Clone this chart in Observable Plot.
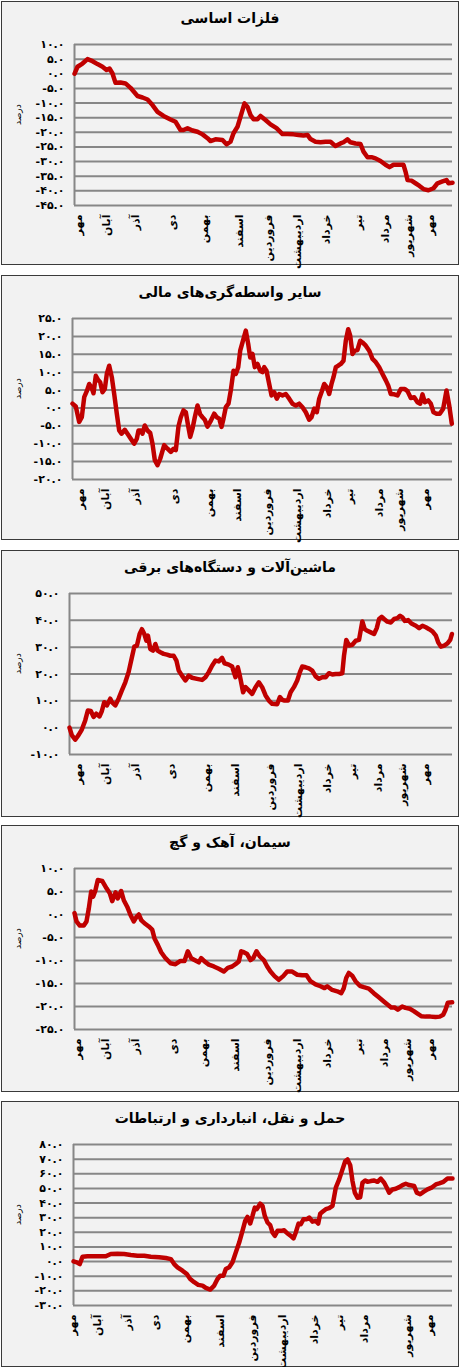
<!DOCTYPE html>
<html><head><meta charset="utf-8">
<script src="https://cdn.jsdelivr.net/npm/d3@7"></script>
<script src="https://cdn.jsdelivr.net/npm/@observablehq/plot@0.6"></script>
<style>
html,body{margin:0;padding:0;background:#fff;}
body{width:460px;height:1367px;position:relative;overflow:hidden;font-family:"DejaVu Sans",sans-serif;}
.panel{position:absolute;left:1px;width:458px;box-sizing:border-box;border:1px solid #3a3a3a;background:#f2f2f2;}
.title{height:28px;line-height:32px;text-align:center;font-weight:bold;font-size:14px;color:#000;white-space:nowrap;direction:rtl;}
.panel svg{display:block;overflow:visible;}
</style></head><body>
<script>
// ---------- data ----------
const monthLabels = ["مهر","آبان","آذر","دی","بهمن","اسفند","فروردین","اردیبهشت","خرداد","تیر","مرداد","شهریور","مهر"];
const titles = ["فلزات اساسی","سایر واسطه‌گری‌های مالی","ماشین‌آلات و دستگاه‌های برقی","سیمان، آهک و گچ","حمل و نقل، انبارداری و ارتباطات"];
const yLabel = "درصد";

// panel 1: فلزات اساسی
const p1Day = [0,3,8,13,18,23,28,32,35,38,41,46,51,56,63,68,73,78,83,89,96,101,106,109,113,118,123,128,133,136,141,148,152,156,159,163,165,168,170,173,176,179,183,186,191,196,202,208,213,219,224,229,233,236,241,246,251,256,261,266,269,273,276,281,286,289,293,297,301,306,311,315,319,324,329,331,333,337,341,345,349,354,359,363,368,372,374,378];
const p1Val = [0.0,2.4,3.5,5.0,4.3,3.3,2.4,1.3,1.8,0.1,-3.1,-3.0,-3.3,-4.8,-7.6,-8.1,-8.8,-10.7,-13.0,-14.4,-15.6,-16.4,-19.2,-19.2,-18.6,-19.4,-19.8,-20.7,-22.0,-23.0,-22.4,-22.6,-24.1,-23.2,-20.3,-18.1,-15.8,-12.4,-10.1,-11.3,-14.1,-15.5,-15.5,-14.4,-15.8,-17.3,-18.6,-20.6,-20.6,-20.7,-20.9,-21.1,-20.9,-22.3,-23.2,-23.4,-23.2,-23.2,-24.7,-23.8,-23.4,-22.4,-23.4,-23.8,-24.0,-26.6,-28.5,-28.5,-28.9,-29.8,-31.1,-31.9,-31.1,-31.1,-31.1,-33.4,-36.3,-36.5,-37.4,-38.3,-39.4,-39.8,-39.1,-37.4,-36.8,-36.3,-37.4,-37.2];
const p1Months = [7.7,35,64,101,133,168,197,226,255,287,314,337,359];
const p1YTicks = [10,5,0,-5,-10,-15,-20,-25,-30,-35,-40,-45];

// panel 2: سایر واسطه‌گری‌های مالی
const p2Day = [0,3.3,6.7,9.3,11.7,14.3,16.7,19,21,23.3,25.7,27.7,30,32.3,34.3,36.7,39.3,41.7,44.3,46.7,49,52.3,55,58.3,61.7,64.3,66,68.3,70,72.3,75,77.7,80,82.3,85,87.7,91.7,95,98.3,101,103.3,106,108.3,111,113.3,115.7,117.7,120,122.3,125,127.7,130,132.3,135,137.7,141.7,144.3,146.7,149,151,153.3,156,158.3,161,163.3,165.7,167.7,170,173.3,175.7,177.7,180,182.3,185,187.7,190,191.7,194,196.7,199,201.7,204.3,206.7,210,213.3,216.7,220,223.3,226.7,230,233.3,236.7,239,241.7,244.3,246.7,249,251.7,254.3,256.7,259,261,263.3,265.7,268.3,271,273.3,275.7,277.7,280,282.3,285,287.7,290,293.3,296.7,300,303.3,306.7,310,313.3,315.7,318.3,321.7,325,328.3,332.3,335,338.3,341.7,345,347.7,350,352.3,355.7,358.3,361,364,367.3,370.7,374,376.7,379.3];
const p2Val = [1.2,0.4,-3.9,-2.6,3.0,4.7,6.7,5.8,4.1,9.0,7.8,7.2,4.4,5.3,9.5,11.8,8.6,3.9,-1.6,-6.3,-7.2,-6.1,-7.2,-8.6,-10.0,-8.6,-6.3,-6.3,-7.2,-4.9,-6.3,-7.0,-10.0,-14.6,-16.0,-14.2,-10.4,-11.4,-12.3,-11.4,-11.8,-5.1,-2.6,-0.7,-1.2,-5.1,-8.1,-5.8,-2.6,0.7,-1.8,-2.6,-3.3,-5.2,-3.9,-1.6,-2.6,-3.0,-5.3,-3.0,0.2,1.2,4.9,10.4,9.5,11.4,16.0,18.3,21.6,17.9,14.1,15.1,11.4,12.3,10.4,10.0,11.4,10.4,6.7,3.5,4.4,2.6,3.9,3.5,3.9,2.6,1.2,0.7,1.2,0.2,-1.2,-3.3,-2.6,-0.2,-1.2,2.6,4.4,6.7,5.8,3.9,6.7,8.6,11.4,11.8,12.3,13.2,18.8,22.0,20.2,15.1,16.0,16.2,18.8,18.3,17.4,16.0,13.7,12.8,11.4,9.5,7.7,6.3,3.9,3.8,3.5,5.3,5.3,4.7,2.8,3.0,1.6,1.2,3.8,1.6,2.1,1.2,-1.2,-1.6,-1.6,-0.2,4.9,0.7,-4.4];
const p2Months = [11.7,36.7,66.7,105,140,168.3,198.3,228.3,258.3,280,310,330,356.7];
const p2YTicks = [25,20,15,10,5,0,-5,-10,-15,-20];

// panel 3: ماشین‌آلات و دستگاه‌های برقی
const p3Day = [0,2.3,5.7,9,12.3,15.7,18.3,21.3,24,26.7,30,32.3,34.7,37.3,40.7,42.3,45.7,49,52.3,55.7,59,62.3,64.7,67.3,70,72.3,74.7,76.7,78.3,80.7,83.3,85.7,88,90.7,94,97.3,100.7,104,106.7,109,112.3,115.7,119,122.3,127.3,132.3,135.7,139,142.3,145.7,149,152.3,154.7,159,162.3,165.7,168,170,173.3,175.7,179,182.3,185.7,189,192.3,195.7,199,202.3,207.3,210,212.3,214.7,218,220.7,224,227.3,230,232.3,235.7,239,242.3,245.7,249,252.3,255.7,259,262.3,265.7,269,272.3,274,276.3,279,282.3,285.7,289,292.3,294.7,297.3,300.7,304,306.7,309,311.7,314,317.3,320.7,324,327.3,330,332.3,334.7,338,341.3,345.7,349,352.3,355.7,359,362.3,365.7,368,370.7,374,377.3,380,381.7];
const p3Val = [0,-2.8,-4.5,-2.8,-0.7,2.7,6.4,6.2,4.0,5.2,4.2,6.2,9.5,8.3,10.8,9.5,8.3,10.8,13.9,16.9,20.7,26.2,30.2,30.6,34.9,36.7,34.9,32.4,34.3,29.3,28.7,31.2,28.7,28.1,27.5,27.2,26.8,26.8,25.0,21.3,19.4,17.6,19.4,18.6,18.2,17.8,18.8,20.7,23.1,25.0,24.7,26.0,24.0,23.5,22.8,18.8,22.5,19.4,13.2,15.1,13.9,12.6,15.1,16.9,15.1,12.0,10.1,8.9,8.7,11.4,10.4,10.1,10.1,13.2,15.1,17.6,20.7,22.8,22.5,22.1,21.3,19.1,18.2,18.8,18.8,20.3,19.8,20.0,20.0,20.3,26.8,32.7,30.6,30.9,32.4,32.7,39.6,36.7,36.1,35.5,34.9,37.1,40.5,41.3,40.5,39.5,39.2,40.5,40.8,41.7,41.1,39.8,40.1,38.8,38.0,37.1,38.0,37.4,36.7,35.9,34.3,31.8,30.2,30.6,31.4,32.7,34.9];
const p3Months = [12.3,39,69,105.7,140.7,169,204,232.3,260.7,285.7,312.3,335.7,359];
const p3YTicks = [50,40,30,20,10,0,-10];

// panel 4: سیمان، آهک و گچ
const p4Day = [0,2,5.3,9.3,12,14.3,16.7,18.7,21,23.3,27.7,32,35.3,37.7,41,43.3,46.7,49.3,52.7,56,59.3,62,64.3,66.7,70,74.3,77.7,80,83.3,86.7,91,96,101,106,110,113.3,116.7,120,124.3,126.7,130,134.3,139.3,144.3,149.3,153.3,157.7,161,164.3,166.7,169.3,172.7,176,178.7,182,185.3,189.3,192.7,196,200,204.3,208.7,212.7,217.7,222.7,227.7,232,236,241,246,250,252.7,257.7,262.7,266.7,269.3,271.7,274.3,277.7,281,285.3,289.3,294.3,299.3,304.3,309.3,313.3,316.7,320,323.3,327.7,331,335.3,339.3,343.3,346.7,351,356,361,365.3,368.7,371,373.3,377.7];
const p4Val = [0.3,-1.5,-2.4,-2.4,-1.5,1.3,5.0,3.9,5.3,7.5,7.3,5.7,4.6,2.9,4.8,3.5,5.1,3.1,1.7,-0.1,-1.5,-0.5,0.0,-1.2,-1.9,-2.6,-3.3,-5.2,-6.6,-8.2,-9.5,-10.6,-10.8,-10.1,-10.1,-8.0,-9.5,-9.9,-10.4,-9.5,-10.2,-10.9,-11.3,-11.8,-12.4,-11.6,-11.3,-10.8,-10.2,-8.0,-8.2,-8.6,-9.9,-9.5,-8.0,-9.1,-9.9,-11.3,-12.4,-13.4,-14.2,-13.4,-12.4,-12.4,-13.1,-13.2,-13.2,-14.5,-15.2,-15.6,-16.0,-15.6,-16.4,-16.7,-17.1,-16.0,-13.8,-12.7,-13.3,-14.5,-15.5,-15.8,-16.1,-17.1,-18.0,-18.9,-19.6,-20.2,-20.2,-20.7,-20.0,-20.3,-20.5,-21.0,-21.6,-22.1,-22.2,-22.2,-22.3,-22.2,-21.8,-20.7,-19.2,-19.1];
const p4Months = [6,34.3,64.3,102.7,132.7,164.3,196,226,256,287,313.7,336.7,359.3];
const p4YTicks = [10,5,0,-5,-10,-15,-20,-25];

// panel 5: حمل و نقل، انبارداری و ارتباطات
const p5Day = [0,3.3,6.3,9,14,24,32.3,37.3,44,50.7,57.3,64,70.7,77.3,85.7,92.3,97.3,100.7,104,109,113.3,116.7,120.7,124.7,129,132.3,136.7,140.7,144,146.7,150,152.3,155.7,159,162.3,165.7,169,171.7,174,176.7,179,181.3,183.3,186.7,189,191.3,194,196.7,199,201.3,204,207.3,210.7,214,217.3,220,222.3,225,227.3,230,233.3,235.7,239,242.3,244.7,246.7,249,252.3,255.7,259,262.3,265.7,269,271.7,274,276.7,279,281.3,284,286.7,289,291.7,294,297.3,300.7,304,307.3,310.7,313.3,315.7,319,322.3,325.7,329,332.3,335.7,340.7,343.3,346.7,350,354,358,362.3,365.7,370,374,379];
const p5Val = [0.2,-0.5,-1.7,3.3,3.6,3.6,3.6,5.2,5.4,5.2,4.5,4.0,4.0,3.3,2.9,2.4,1.7,-1.7,-3.9,-6.2,-8.5,-11.9,-14.1,-15.9,-16.4,-18.0,-19.1,-16.4,-11.9,-9.6,-9.6,-5.0,-3.9,-0.5,6.3,13.0,21.0,27.8,30.5,26.0,31.2,36.9,35.8,39.6,38.1,31.2,26.7,24.9,19.9,17.6,21.0,21.0,21.4,19.2,17.6,15.8,19.9,26.0,25.5,28.9,28.9,30.1,27.3,27.8,26.0,32.7,34.0,35.8,36.5,38.1,50.5,56.2,63.0,68.6,69.8,65.9,55.0,47.1,43.6,44.0,53.9,55.4,54.5,55.0,55.4,54.5,56.7,53.9,50.5,47.1,49.3,49.8,50.9,52.3,53.2,52.3,51.6,47.1,46.0,47.6,49.3,50.5,52.7,53.4,54.5,56.7,56.7];
const p5Months = [2.3,27.3,57.3,85.7,115.7,150.7,182.3,212.3,244,269,294,337.3,359];
const p5YTicks = [80,70,60,50,40,30,20,10,0,-10,-20,-30];

// ---------- layout ----------
const panels = [
  {day:p1Day, val:p1Val, months:p1Months, yTicks:p1YTicks, top:1,    h:264, ml:72, xEnd:378},
  {day:p2Day, val:p2Val, months:p2Months, yTicks:p2YTicks, top:275,  h:265, ml:70, xEnd:380},
  {day:p3Day, val:p3Val, months:p3Months, yTicks:p3YTicks, top:550,  h:267, ml:67, xEnd:382.3},
  {day:p4Day, val:p4Val, months:p4Months, yTicks:p4YTicks, top:825,  h:267, ml:72, xEnd:378},
  {day:p5Day, val:p5Val, months:p5Months, yTicks:p5YTicks, top:1101, h:266, ml:71, xEnd:379}
];

const faDigits = "۰۱۲۳۴۵۶۷۸۹";
const fa = s => String(s).replace(/[0-9]/g, d => faDigits[+d]);
const fmt = v => fa(v.toFixed(1));
const grid = "#878787";
const lineColor = "#c00000";

panels.forEach((p, k) => {
  const div = document.createElement("div");
  div.className = "panel";
  div.style.top = p.top + "px";
  div.style.height = p.h + "px";
  const t = document.createElement("div");
  t.className = "title";
  t.textContent = titles[k];
  div.appendChild(t);

  const rows = p.day.map((d, i) => ({day: d, value: p.val[i]}));
  const ticks = p.months.map((d, i) => ({day: d, label: monthLabels[i]}));
  const svgH = p.h - 2 - 28;
  const yMax = d3.max(p.yTicks), yMin = d3.min(p.yTicks);

  const chart = Plot.plot({
    width: 456,
    height: svgH,
    marginLeft: p.ml,
    marginRight: 6,
    marginTop: 14,
    marginBottom: svgH - 175,
    x: {domain: [0, p.xEnd], axis: null},
    y: {domain: [yMin, yMax], axis: null},
    style: {background: "transparent", fontFamily: "DejaVu Sans, sans-serif", color: "#000", overflow: "visible"},
    marks: [
      Plot.gridY(p.yTicks, {stroke: grid, strokeOpacity: 1, strokeWidth: 2}),
      Plot.axisY(p.yTicks, {tickSize: 0, tickPadding: 10, tickFormat: fmt, fontSize: 11, fontWeight: "bold", label: null}),
      Plot.ruleX([0], {stroke: grid, strokeWidth: 2}),
      Plot.line(rows, {x: "day", y: "value", stroke: lineColor, strokeWidth: 4.5, strokeLinejoin: "round", strokeLinecap: "round"}),
      Plot.text(ticks, {x: "day", text: "label", frameAnchor: "bottom", rotate: -90, textAnchor: "end", dy: 9, fontSize: 11, fontWeight: "bold"}),
      Plot.text([yLabel], {text: d => d, frameAnchor: "left", dx: 16 - p.ml, rotate: -90, fontSize: 9})
    ]
  });
  div.appendChild(chart);
  document.body.appendChild(div);
});
</script>
</body></html>
